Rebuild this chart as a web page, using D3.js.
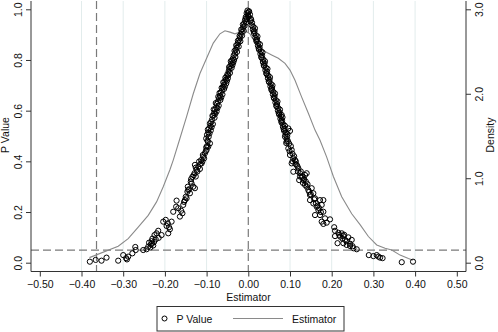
<!DOCTYPE html>
<html>
<head>
<meta charset="utf-8">
<script src="https://cdn.jsdelivr.net/npm/d3@7"></script>
<style>
  body { margin: 0; background: #fff; }
  text { font-family: Arial, "Liberation Sans", sans-serif; fill: #111; }
  .grid line { stroke: #e2ecec; stroke-width: 1; }
</style>
</head>
<body>
<div id="chart"></div>
<script>
// estimator / p value pairs, left arm (lower part)
let leftLow = [
  [-0.380, 0.004], [-0.366, 0.011], [-0.352, 0.008], [-0.340, 0.02], [-0.312, 0.008],
  [-0.300, 0.03], [-0.293, 0.018], [-0.291, 0.013], [-0.288, 0.024], [-0.278, 0.037],
  [-0.270, 0.05], [-0.271, 0.062], [-0.252, 0.05], [-0.244, 0.053], [-0.240, 0.063],
  [-0.238, 0.079], [-0.234, 0.072], [-0.232, 0.085], [-0.230, 0.095], [-0.228, 0.068],
  [-0.235, 0.06], [-0.231, 0.075], [-0.226, 0.082], [-0.225, 0.109], [-0.222, 0.092],
  [-0.220, 0.116], [-0.216, 0.126], [-0.215, 0.098], [-0.208, 0.109], [-0.204, 0.162],
  [-0.198, 0.169], [-0.196, 0.145], [-0.193, 0.155], [-0.192, 0.116], [-0.190, 0.14],
  [-0.188, 0.132], [-0.184, 0.162], [-0.180, 0.201], [-0.173, 0.221], [-0.172, 0.245],
  [-0.168, 0.215], [-0.164, 0.182], [-0.161, 0.205], [-0.158, 0.195], [-0.156, 0.228],
  [-0.152, 0.247], [-0.150, 0.26], [-0.148, 0.254], [-0.146, 0.28], [-0.145, 0.30],
  [-0.144, 0.287], [-0.140, 0.274], [-0.138, 0.32], [-0.136, 0.313], [-0.134, 0.339],
  [-0.132, 0.30], [-0.129, 0.353], [-0.128, 0.294], [-0.128, 0.386], [-0.126, 0.34],
  [-0.124, 0.366], [-0.122, 0.36], [-0.120, 0.379], [-0.118, 0.399], [-0.116, 0.37],
  [-0.113, 0.405], [-0.112, 0.392], [-0.110, 0.40], [-0.108, 0.418], [-0.106, 0.412],
  [-0.104, 0.432], [-0.102, 0.44], [-0.100, 0.445], [-0.099, 0.46], [-0.097, 0.478],
  [-0.096, 0.458], [-0.092, 0.471], [-0.142, 0.29], [-0.137, 0.33], [-0.131, 0.345],
  [-0.126, 0.375], [-0.115, 0.39], [-0.109, 0.425], [-0.101, 0.455], [-0.154, 0.24]
];

// left arm (upper, dense part)
let leftHigh = [
  [-0.002, 0.995], [-0.004, 0.985], [-0.001, 0.975], [-0.006, 0.97], [-0.003, 0.962],
  [-0.008, 0.955], [-0.005, 0.948], [-0.010, 0.944], [-0.009, 0.935], [-0.012, 0.93],
  [-0.014, 0.921], [-0.011, 0.915], [-0.016, 0.91], [-0.018, 0.901], [-0.015, 0.896],
  [-0.020, 0.889], [-0.022, 0.88], [-0.019, 0.874], [-0.024, 0.868], [-0.026, 0.86],
  [-0.023, 0.853], [-0.028, 0.848], [-0.030, 0.84], [-0.027, 0.832], [-0.032, 0.826],
  [-0.035, 0.818], [-0.031, 0.812], [-0.037, 0.806], [-0.039, 0.798], [-0.036, 0.79],
  [-0.041, 0.785], [-0.043, 0.776], [-0.040, 0.769], [-0.045, 0.764], [-0.047, 0.756],
  [-0.044, 0.749], [-0.050, 0.744], [-0.052, 0.735], [-0.049, 0.728], [-0.054, 0.722],
  [-0.057, 0.714], [-0.053, 0.707], [-0.059, 0.701], [-0.061, 0.692], [-0.058, 0.686],
  [-0.063, 0.68], [-0.066, 0.671], [-0.062, 0.664], [-0.068, 0.658], [-0.070, 0.649],
  [-0.067, 0.642], [-0.073, 0.636], [-0.075, 0.627], [-0.071, 0.62], [-0.077, 0.613],
  [-0.080, 0.604], [-0.076, 0.597], [-0.082, 0.59], [-0.084, 0.58], [-0.081, 0.572],
  [-0.087, 0.565], [-0.089, 0.555], [-0.085, 0.547], [-0.091, 0.54], [-0.094, 0.53],
  [-0.090, 0.522], [-0.096, 0.514], [-0.099, 0.505], [-0.095, 0.497], [-0.101, 0.49],
  [-0.098, 0.482],
  [0.001, 0.99], [-0.007, 0.962], [-0.013, 0.94], [-0.017, 0.92], [-0.021, 0.895],
  [-0.025, 0.876], [-0.029, 0.858], [-0.033, 0.836], [-0.034, 0.8], [-0.038, 0.78],
  [-0.042, 0.795], [-0.046, 0.772], [-0.048, 0.74], [-0.051, 0.718], [-0.055, 0.73],
  [-0.056, 0.695], [-0.060, 0.712], [-0.064, 0.69], [-0.065, 0.652], [-0.069, 0.67],
  [-0.072, 0.655], [-0.074, 0.61], [-0.078, 0.63], [-0.079, 0.588], [-0.083, 0.605],
  [-0.086, 0.58], [-0.088, 0.535], [-0.092, 0.55], [-0.093, 0.51], [-0.097, 0.525]
];

// right arm (upper, dense part)
let rightHigh = [
  [0.002, 0.992], [0.004, 0.98], [0.001, 0.97], [0.006, 0.963], [0.005, 0.953],
  [0.009, 0.947], [0.008, 0.937], [0.012, 0.931], [0.011, 0.921], [0.015, 0.914],
  [0.014, 0.904], [0.018, 0.898], [0.017, 0.888], [0.021, 0.882], [0.020, 0.872],
  [0.024, 0.866], [0.023, 0.856], [0.027, 0.85], [0.026, 0.84], [0.030, 0.834],
  [0.029, 0.824], [0.033, 0.818], [0.032, 0.808], [0.036, 0.802], [0.035, 0.792],
  [0.039, 0.786], [0.038, 0.776], [0.042, 0.77], [0.041, 0.76], [0.045, 0.754],
  [0.044, 0.744], [0.048, 0.738], [0.047, 0.728], [0.051, 0.722], [0.050, 0.712],
  [0.054, 0.706], [0.053, 0.696], [0.057, 0.69], [0.056, 0.68], [0.060, 0.674],
  [0.059, 0.664], [0.063, 0.658], [0.062, 0.648], [0.066, 0.642], [0.065, 0.632],
  [0.069, 0.626], [0.068, 0.616], [0.072, 0.61], [0.071, 0.60], [0.075, 0.594],
  [0.074, 0.584], [0.078, 0.578], [0.077, 0.568], [0.081, 0.562], [0.080, 0.552],
  [0.084, 0.546], [0.083, 0.536], [0.087, 0.53], [0.086, 0.52], [0.090, 0.514],
  [0.089, 0.504], [0.093, 0.498], [0.092, 0.488], [0.095, 0.48], [0.091, 0.472],
  [0.080, 0.583], [0.096, 0.53], [0.100, 0.52], [0.088, 0.497],
  [-0.001, 0.985], [0.007, 0.958], [0.013, 0.912], [0.016, 0.925], [0.019, 0.878],
  [0.022, 0.893], [0.025, 0.845], [0.028, 0.862], [0.031, 0.812], [0.034, 0.83],
  [0.037, 0.78], [0.040, 0.795], [0.043, 0.748], [0.046, 0.765], [0.049, 0.716],
  [0.052, 0.732], [0.055, 0.686], [0.058, 0.7], [0.061, 0.652], [0.064, 0.668],
  [0.067, 0.62], [0.070, 0.636], [0.073, 0.59], [0.076, 0.604], [0.079, 0.558],
  [0.082, 0.574], [0.085, 0.526], [0.088, 0.54], [0.094, 0.508]
];

// right arm (lower part)
let rightLow = [
  [0.092, 0.478], [0.096, 0.451], [0.098, 0.47], [0.102, 0.46], [0.104, 0.445],
  [0.100, 0.425], [0.106, 0.43], [0.108, 0.412], [0.110, 0.42], [0.112, 0.405],
  [0.104, 0.392], [0.114, 0.40], [0.108, 0.359], [0.116, 0.386], [0.118, 0.38],
  [0.120, 0.372], [0.124, 0.353], [0.126, 0.36], [0.128, 0.339], [0.122, 0.326],
  [0.130, 0.34], [0.132, 0.326], [0.134, 0.33], [0.136, 0.346], [0.138, 0.32],
  [0.140, 0.353], [0.136, 0.307], [0.140, 0.30], [0.142, 0.31], [0.144, 0.287],
  [0.146, 0.28], [0.148, 0.267], [0.150, 0.27], [0.152, 0.294], [0.156, 0.274],
  [0.148, 0.247], [0.156, 0.234], [0.158, 0.25], [0.160, 0.254], [0.162, 0.235],
  [0.164, 0.221], [0.166, 0.225], [0.168, 0.208], [0.170, 0.215], [0.172, 0.247],
  [0.174, 0.20], [0.180, 0.247], [0.176, 0.228], [0.160, 0.188], [0.172, 0.188],
  [0.180, 0.201], [0.184, 0.175], [0.176, 0.162], [0.188, 0.158], [0.196, 0.171],
  [0.180, 0.153], [0.206, 0.14], [0.208, 0.126], [0.216, 0.118], [0.218, 0.11],
  [0.224, 0.116], [0.220, 0.103], [0.208, 0.105], [0.228, 0.105], [0.230, 0.11],
  [0.240, 0.10], [0.232, 0.09], [0.226, 0.095], [0.236, 0.085], [0.248, 0.09],
  [0.214, 0.077], [0.228, 0.077], [0.236, 0.07], [0.244, 0.075], [0.244, 0.066],
  [0.250, 0.065], [0.252, 0.057], [0.260, 0.053], [0.289, 0.03], [0.300, 0.026],
  [0.308, 0.03], [0.312, 0.024], [0.316, 0.02], [0.322, 0.018], [0.368, 0.002],
  [0.395, 0.004], [0.099, 0.44], [0.106, 0.4], [0.113, 0.39], [0.119, 0.36],
  [0.124, 0.34], [0.131, 0.315]
];

// kernel density of the estimator
let densityX = [
  -0.381, -0.312, -0.288, -0.264, -0.24, -0.22, -0.204, -0.188, -0.18, -0.164,
  -0.148, -0.132, -0.116, -0.1, -0.084, -0.068, -0.056, -0.044, -0.032, -0.02,
  -0.008, 0.004, 0.008, 0.024, 0.04, 0.056, 0.072, 0.088, 0.1, 0.112,
  0.128, 0.144, 0.16, 0.172, 0.188, 0.204, 0.224, 0.248, 0.268, 0.288,
  0.308, 0.328, 0.344, 0.364, 0.384, 0.395
];
let densityY = [
  0.06, 0.195, 0.285, 0.42, 0.56, 0.72, 0.9, 1.1, 1.215, 1.47,
  1.73, 2.0, 2.24, 2.42, 2.6, 2.71, 2.745, 2.73, 2.71, 2.73,
  2.745, 2.71, 2.67, 2.58, 2.5, 2.46, 2.42, 2.36, 2.28, 2.16,
  1.96, 1.77, 1.57, 1.45, 1.25, 1.02, 0.78, 0.58, 0.45, 0.31,
  0.21, 0.17, 0.15, 0.09, 0.05, 0.03
];

let xTicks = [-0.5, -0.4, -0.3, -0.2, -0.1, 0, 0.1, 0.2, 0.3, 0.4, 0.5];
let pTicks = [0, 0.2, 0.4, 0.6, 0.8, 1.0];
let dTicks = [0, 1, 2, 3];
let pCut = 0.05;
let xCut = -0.364;

let W = 498, H = 332;
let box = { left: 31, right: 466, top: 1, bottom: 271.5 };

let svg = d3
  .select("#chart")
  .append("svg")
  .attr("width", W)
  .attr("height", H);

let xScale = d3.scaleLinear().domain([-0.5, 0.5]).range([39.8, 456.8]);
let pScale = d3.scaleLinear().domain([0, 1]).range([262.7, 9.3]);
let dScale = d3.scaleLinear().domain([0, 3]).range([262.7, 9.3]);

// light vertical gridlines at interior x ticks
svg
  .append("g")
  .attr("class", "grid")
  .selectAll("line")
  .data(xTicks.filter((d) => Math.abs(d) > 0.001 && Math.abs(d) < 0.45))
  .join("line")
  .attr("x1", (d) => xScale(d))
  .attr("x2", (d) => xScale(d))
  .attr("y1", box.top)
  .attr("y2", box.bottom);

// reference lines
let dash = "8,4";
svg
  .append("line")
  .attr("x1", box.left)
  .attr("x2", box.right)
  .attr("y1", pScale(pCut))
  .attr("y2", pScale(pCut))
  .attr("stroke", "#7a7a7a")
  .attr("stroke-width", 1.2)
  .attr("stroke-dasharray", dash);

svg
  .selectAll(".vref")
  .data([xCut, 0])
  .join("line")
  .attr("class", "vref")
  .attr("x1", (d) => xScale(d))
  .attr("x2", (d) => xScale(d))
  .attr("y1", box.top)
  .attr("y2", box.bottom)
  .attr("stroke", "#7a7a7a")
  .attr("stroke-width", 1.2)
  .attr("stroke-dasharray", dash);

// density line
let density = densityX.map((x, i) => ({ x: x, y: densityY[i] }));
let line = d3
  .line()
  .x((d) => xScale(d.x))
  .y((d) => dScale(d.y));

svg
  .append("path")
  .datum(density)
  .attr("d", line)
  .attr("fill", "none")
  .attr("stroke", "#8a8a8a")
  .attr("stroke-width", 1.1);

// p value scatter
let points = leftLow.concat(leftHigh, rightHigh, rightLow);
svg
  .append("g")
  .selectAll("circle")
  .data(points)
  .join("circle")
  .attr("cx", (d) => xScale(d[0]))
  .attr("cy", (d) => pScale(d[1]))
  .attr("r", 2.6)
  .attr("fill", "none")
  .attr("stroke", "#000")
  .attr("stroke-width", 1);

// axes
let fmt = d3.format(".2f");
let xAxis = svg
  .append("g")
  .attr("transform", "translate(0," + box.bottom + ")")
  .call(d3.axisBottom(xScale).tickValues(xTicks).tickSize(5).tickFormat(fmt));
xAxis.select(".domain").remove();
xAxis.selectAll("text").attr("y", 9).style("font-size", "10.5px");

let yAxis = svg
  .append("g")
  .attr("transform", "translate(" + box.left + ",0)")
  .call(d3.axisLeft(pScale).tickValues(pTicks).tickSize(5).tickFormat(d3.format(".1f")));
yAxis.select(".domain").remove();
yAxis
  .selectAll("text")
  .attr("x", 0)
  .attr("dy", 0)
  .attr("text-anchor", "middle")
  .attr("transform", "translate(-9,0) rotate(-90)")
  .style("font-size", "10.5px");

let y2Axis = svg
  .append("g")
  .attr("transform", "translate(" + box.right + ",0)")
  .call(d3.axisRight(dScale).tickValues(dTicks).tickSize(5).tickFormat(d3.format(".1f")));
y2Axis.select(".domain").remove();
y2Axis
  .selectAll("text")
  .attr("x", 0)
  .attr("dy", 0)
  .attr("text-anchor", "middle")
  .attr("transform", "translate(17,0) rotate(-90)")
  .style("font-size", "10.5px");

svg.selectAll(".tick line").attr("stroke", "#333");

// axis lines
svg
  .append("path")
  .attr("d", "M" + box.left + "," + box.top + "V" + box.bottom + "H" + box.right + "V" + box.top)
  .attr("fill", "none")
  .attr("stroke", "#333")
  .attr("stroke-width", 1);

// titles
svg
  .append("text")
  .attr("x", (box.left + box.right) / 2)
  .attr("y", 301)
  .attr("text-anchor", "middle")
  .style("font-size", "10.5px")
  .text("Estimator");

svg
  .append("text")
  .attr("transform", "translate(9," + (pScale(0.5) - 1) + ") rotate(-90)")
  .attr("text-anchor", "middle")
  .style("font-size", "10.5px")
  .text("P Value");

svg
  .append("text")
  .attr("transform", "translate(494," + (pScale(0.5) - 1) + ") rotate(-90)")
  .attr("text-anchor", "middle")
  .style("font-size", "10.5px")
  .text("Density");

// legend
let legend = svg.append("g").attr("transform", "translate(157,306.5)");
legend
  .append("rect")
  .attr("width", 187)
  .attr("height", 24.5)
  .attr("fill", "#fff")
  .attr("stroke", "#333")
  .attr("stroke-width", 1);
legend
  .append("circle")
  .attr("cx", 7.5)
  .attr("cy", 12)
  .attr("r", 2.5)
  .attr("fill", "none")
  .attr("stroke", "#000")
  .attr("stroke-width", 1);
legend
  .append("text")
  .attr("x", 19.5)
  .attr("y", 16)
  .style("font-size", "10.5px")
  .text("P Value");
legend
  .append("line")
  .attr("x1", 76)
  .attr("x2", 126)
  .attr("y1", 12)
  .attr("y2", 12)
  .attr("stroke", "#8a8a8a")
  .attr("stroke-width", 1.1);
legend
  .append("text")
  .attr("x", 135)
  .attr("y", 16)
  .style("font-size", "10.5px")
  .text("Estimator");
</script>
</body>
</html>
